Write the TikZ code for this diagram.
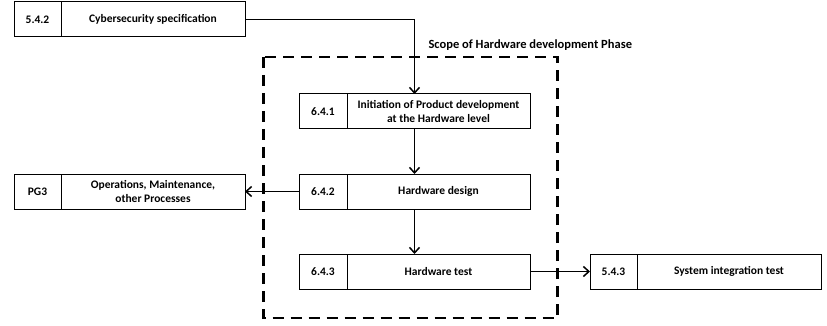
\documentclass[tikz,border=0pt]{standalone}
\usepackage{fontspec}
\setmainfont{Carlito}
\usetikzlibrary{arrows.meta}
\begin{document}
\begin{tikzpicture}[x=1pt,y=-1pt,
  font=\bfseries\fontsize{11.5}{13}\selectfont,
  boxline/.style={draw=black,line width=1pt},
  flow/.style={line width=1.8pt,-{Straight Barb[length=5.5pt,width=10pt,line width=1.5pt]}},
  scope/.style={draw,line width=2.8pt,dash pattern=on 11pt off 7pt}]
\useasboundingbox (0,0) rectangle (827,326);
% process box: id, number, title, left x, top y, divider offset
\newcommand{\procbox}[6]{%
  \draw[boxline] (#4,#5) rectangle ++(231,35);
  \draw[boxline] (#4+#6,#5) -- ++(0,35);
  \node[align=center] (#1n) at (#4+#6/2,#5+17.5) {#2};
  \node[align=center,font=\bfseries\fontsize{11.5}{13.5}\selectfont] (#1t) at ({#4+#6+(231-#6)/2},#5+17.5) {#3};
  \coordinate (#1W) at (#4,#5+17.5);
  \coordinate (#1E) at (#4+231,#5+17.5);
  \coordinate (#1N) at (#4+115.5,#5);
  \coordinate (#1S) at (#4+115.5,#5+35);
}
\procbox{cs}{5.4.2}{Cybersecurity specification}{14}{2}{47}
\procbox{ini}{6.4.1}{Initiation of Product development\\at the Hardware level}{299}{94}{48}
\procbox{pg}{PG3}{Operations, Maintenance,\\other Processes}{14}{174}{47}
\procbox{hd}{6.4.2}{Hardware design}{299}{174}{48}
\procbox{ht}{6.4.3}{Hardware test}{299}{254}{48}
\procbox{si}{5.4.3}{System integration test}{590}{254}{47}
% phase boundary
\draw[scope] (263.5,57) rectangle (557.5,318);
\node[anchor=west,font=\bfseries\fontsize{12.5}{14}\selectfont] (scopelbl) at (425,45) {Scope of Hardware development Phase};
% connectors
\draw[flow] (csE) -| (iniN);
\draw[flow] (iniS) -- (hdN);
\draw[flow] (hdS) -- (htN);
\draw[flow] (hdW) -- (pgE);
\draw[flow] (htE) -- (siW);
\end{tikzpicture}
\end{document}
